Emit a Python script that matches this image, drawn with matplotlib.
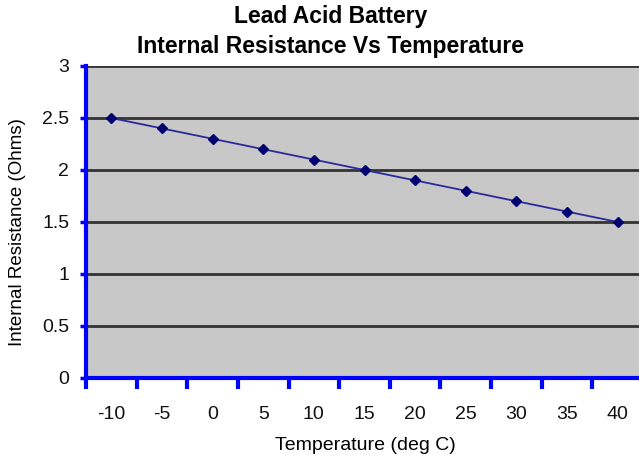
import numpy as np
import matplotlib
matplotlib.use("Agg")
from matplotlib import pyplot as plt

# data
temps = ['-10', '-5', '0', '5', '10', '15', '20', '25', '30', '35', '40']
resistance = [2.5, 2.4, 2.3, 2.2, 2.1, 2.0, 1.9, 1.8, 1.7, 1.6, 1.5]
yticks = [0, 0.5, 1, 1.5, 2, 2.5, 3]

plt.rcParams['font.family'] = ['Liberation Sans', 'DejaVu Sans']

W, H = 639, 458
fig = plt.figure(figsize=(W / 100, H / 100), dpi=100)
fig.patch.set_facecolor('white')

# plot area in pixels: left 86, right 643, top 66, bottom 378
l, r, t, b = 86, 643, 66, 378
ax = fig.add_axes([l / W, 1 - b / H, (r - l) / W, (b - t) / H])
ax.set_facecolor('#c8c8c8')

x = np.arange(len(temps))
ax.plot(x, resistance, color='#2a2a9a', lw=1.3, marker='D', ms=5.5,
        mfc='#000070', mec='#000070', zorder=3)

ax.set_xlim(-0.5, len(temps) - 0.5)
ax.set_ylim(0, 3)
ax.set_yticks(yticks)
ax.set_yticklabels(['0', '0.5', '1', '1.5', '2', '2.5', '3'])
ax.set_xticks(x)
ax.set_xticklabels(temps)
ax.set_xticks(np.arange(len(temps) + 1) - 0.5, minor=True)

for yv in yticks[1:]:
    ax.axhline(yv, color='#333333', lw=2, zorder=1)

for s in ['top', 'right']:
    ax.spines[s].set_visible(False)
for s in ['left', 'bottom']:
    ax.spines[s].set_color('#0000ff')
    ax.spines[s].set_linewidth(3)

ax.tick_params(axis='x', which='major', length=0, labelsize=14, pad=20,
               labelcolor='#111111')
ax.tick_params(axis='x', which='minor', length=8, width=3, color='#0000ff',
               direction='out')
ax.tick_params(axis='y', length=4, width=2.5, color='#0000ff', direction='out',
               labelsize=14, pad=8, labelcolor='#111111')

fig.text(0.517, 1 - 17 / H, 'Lead Acid Battery', ha='center', va='center',
         fontsize=16.5, fontweight='bold')
fig.text(0.517, 1 - 47 / H, 'Internal Resistance Vs Temperature', ha='center',
         va='center', fontsize=16.5, fontweight='bold')
fig.text(365 / W, 1 - 445 / H, 'Temperature (deg C)', ha='center', va='center',
         fontsize=14)
fig.text(18 / W, 1 - 232 / H, 'Internal Resistance (Ohms)', ha='center',
         va='center', rotation=90, fontsize=13.5)

fig.savefig('out.png', dpi=100)
